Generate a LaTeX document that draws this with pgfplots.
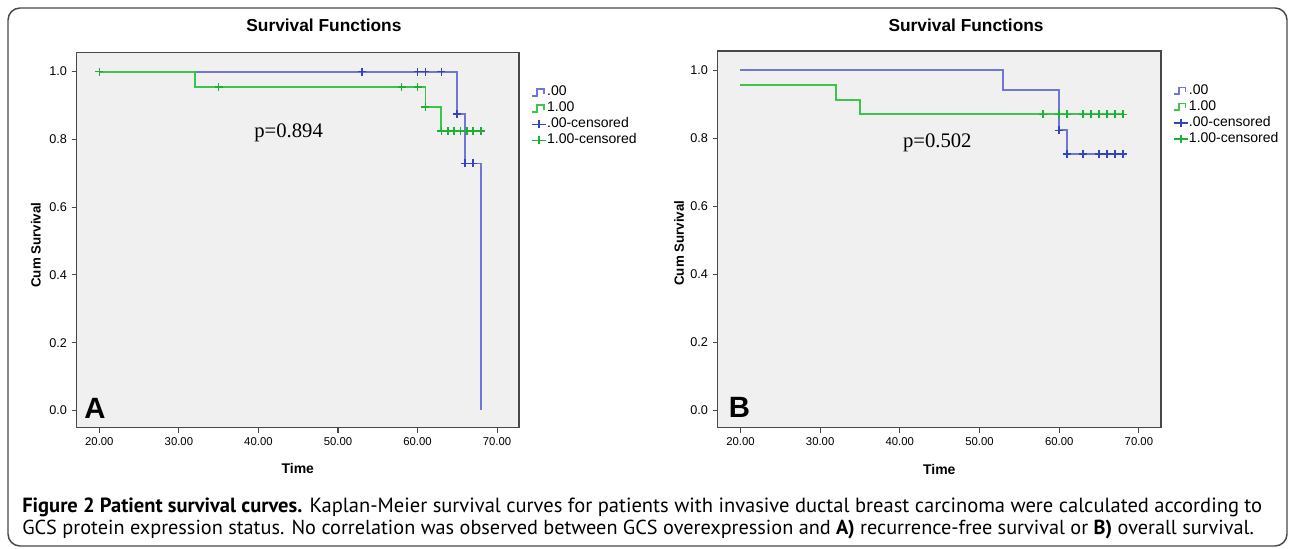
\documentclass[border=0pt]{standalone}
\usepackage{fontspec}
\setmainfont{Liberation Sans}
\newfontfamily\serifp{Liberation Serif}
\newfontfamily\capfont{PT Sans}
\usepackage{pgfplots}
\pgfplotsset{compat=1.18}

\definecolor{bline}{RGB}{112,118,214}
\definecolor{bmark}{RGB}{50,68,190}
\definecolor{gline}{RGB}{60,196,76}
\definecolor{gmark}{RGB}{28,176,52}
\definecolor{panel}{RGB}{240,240,240}
\definecolor{frame}{RGB}{72,72,72}

\pgfplotsset{
  stepleg/.style={legend image code/.code={%
    \draw[##1] (0pt,-2.5pt) -- (4pt,-2.5pt) -- (4pt,2.5pt) -- (9pt,2.5pt) -- (9pt,-1pt);}},
  censleg/.style={legend image code/.code={%
    \draw[#1, line width=1.2pt] (0pt,0pt) -- (11pt,0pt);
    \draw[#1, line width=1.2pt] (5.5pt,-3pt) -- (5.5pt,3pt);}},
  km/.style={
    scale only axis,
    anchor=north west,
    xmin=17.15, xmax=72.75, ymin=-0.051, ymax=1.056,
    xtick={20,30,40,50,60,70},
    ytick={0,0.2,0.4,0.6,0.8,1},
    axis background/.style={fill=panel},
    axis line style={draw=frame, line width=1.1pt},
    tick align=outside, xtick pos=left, ytick pos=left,
    major tick length=3.75pt,
    tick style={draw=frame, line width=0.8pt},
    /pgf/number format/assume math mode=true,
    xticklabel style={font=\fontsize{8.5}{9}\selectfont,
      /pgf/number format/fixed, /pgf/number format/fixed zerofill,
      /pgf/number format/precision=2},
    yticklabel style={font=\fontsize{9.5}{10}\selectfont,
      /pgf/number format/fixed, /pgf/number format/fixed zerofill,
      /pgf/number format/precision=1},
    title={Survival Functions},
    title style={font=\bfseries\fontsize{13}{14}\selectfont, anchor=center},
    xlabel={Time},
    xlabel style={font=\bfseries\fontsize{10.5}{12}\selectfont, anchor=center,
      at={(axis description cs:0.5,-0.110)}},
    ylabel={Cum Survival},
    ylabel style={font=\bfseries\fontsize{10}{12}\selectfont, anchor=center},
    legend style={anchor=north west, draw=none, fill=none, inner sep=0pt,
      row sep=3pt, font=\fontsize{10.5}{10.5}\selectfont,
      nodes={inner sep=0pt, text height=7pt, text depth=2pt},
      /tikz/every even column/.append style={column sep=1.5pt}},
    legend cell align=left,
  },
  kmline/.style={line width=1.4pt, const plot, mark=none, stepleg},
  kmcens/.style={only marks, mark=+, mark size=3pt, mark options={line width=1.2pt}, censleg=#1},
}

\begin{document}
\begin{tikzpicture}
\path (0pt,0pt) rectangle (967.5pt,-411.75pt);
\draw[frame, line width=1.1pt, rounded corners=9pt] (6pt,-6pt) rectangle (965.25pt,-409.5pt);

% A) recurrence-free survival
\begin{axis}[km, at={(57.5pt,-39.5pt)}, width=331.7pt, height=281.3pt,
  title style={at={(axis description cs:0.559,1.0525)}},
  ylabel style={at={(axis description cs:-0.092,0.487)}},
  legend style={at={(axis description cs:1.026,0.911)}}]
\addplot[bline, kmline] coordinates {
  (20,1) (65,0.875) (66,0.729) (68,0)
};
\addlegendentry{.00}
\addplot[gline, kmline] coordinates {
  (20,1) (32,0.955) (61,0.895) (63,0.824) (68,0.824)
};
\addlegendentry{1.00}
\addplot[bmark, kmcens=bmark] coordinates {
  (53,1) (60,1) (61,1) (63,1) (65,0.875) (66,0.729) (67,0.729)
};
\addlegendentry{.00-censored}
\addplot[gmark, kmcens=gmark] coordinates {
  (20,1) (35,0.955) (58,0.955) (60,0.955) (61,0.895)
  (63,0.824) (63.8,0.824) (64.6,0.824) (65.4,0.824) (66.2,0.824) (67,0.824) (68,0.824)
};
\addlegendentry{1.00-censored}
\node[font=\serifp\fontsize{15.5}{16}\selectfont] at (axis cs:43.8,0.82) {p=0.894};
\node[anchor=base west, inner sep=0pt, font=\bfseries\fontsize{22}{22}\selectfont] at (axis cs:18.1,-0.023) {A};
\node[font=\fontsize{10.5}{10.5}\selectfont] at (axis description cs:1.12,0.962) {GCS};
\end{axis}

% B) overall survival
\begin{axis}[km, at={(538.3pt,-38.3pt)}, width=332.3pt, height=282.5pt,
  title style={at={(axis description cs:0.5605,1.048)}},
  ylabel style={at={(axis description cs:-0.087,0.49)}},
  legend style={at={(axis description cs:1.026,0.911)}}]
\addplot[bline, kmline] coordinates {
  (20,1) (53,0.941) (60,0.823) (61,0.754) (68,0.754)
};
\addlegendentry{.00}
\addplot[gline, kmline] coordinates {
  (20,0.957) (32,0.913) (35,0.870) (68,0.870)
};
\addlegendentry{1.00}
\addplot[bmark, kmcens=bmark] coordinates {
  (60,0.823) (61,0.754) (63,0.754) (65,0.754) (66,0.754) (67,0.754) (68,0.754)
};
\addlegendentry{.00-censored}
\addplot[gmark, kmcens=gmark] coordinates {
  (58,0.870) (60,0.870) (61,0.870) (63,0.870) (64,0.870) (65,0.870) (66,0.870) (67,0.870) (68,0.870)
};
\addlegendentry{1.00-censored}
\node[font=\serifp\fontsize{15.5}{16}\selectfont] at (axis cs:44.7,0.785) {p=0.502};
\node[anchor=base west, inner sep=0pt, font=\bfseries\fontsize{22}{22}\selectfont] at (axis cs:18.5,-0.021) {B};
\node[font=\fontsize{10.5}{10.5}\selectfont] at (axis description cs:1.134,0.958) {GCS};
\end{axis}

% caption
\node[anchor=west, inner sep=0pt, font=\capfont\fontsize{15.4}{18}\selectfont] at (16.5pt,-380.25pt)
  {\textbf{Figure 2 Patient survival curves.} Kaplan-Meier survival curves for patients with invasive ductal breast carcinoma were calculated according to};
\node[anchor=west, inner sep=0pt, font=\capfont\fontsize{15.2}{18}\selectfont] at (16.5pt,-397.5pt)
  {GCS protein expression status. No correlation was observed between GCS overexpression and \textbf{A)} recurrence-free survival or \textbf{B)} overall survival.};
\end{tikzpicture}
\end{document}
